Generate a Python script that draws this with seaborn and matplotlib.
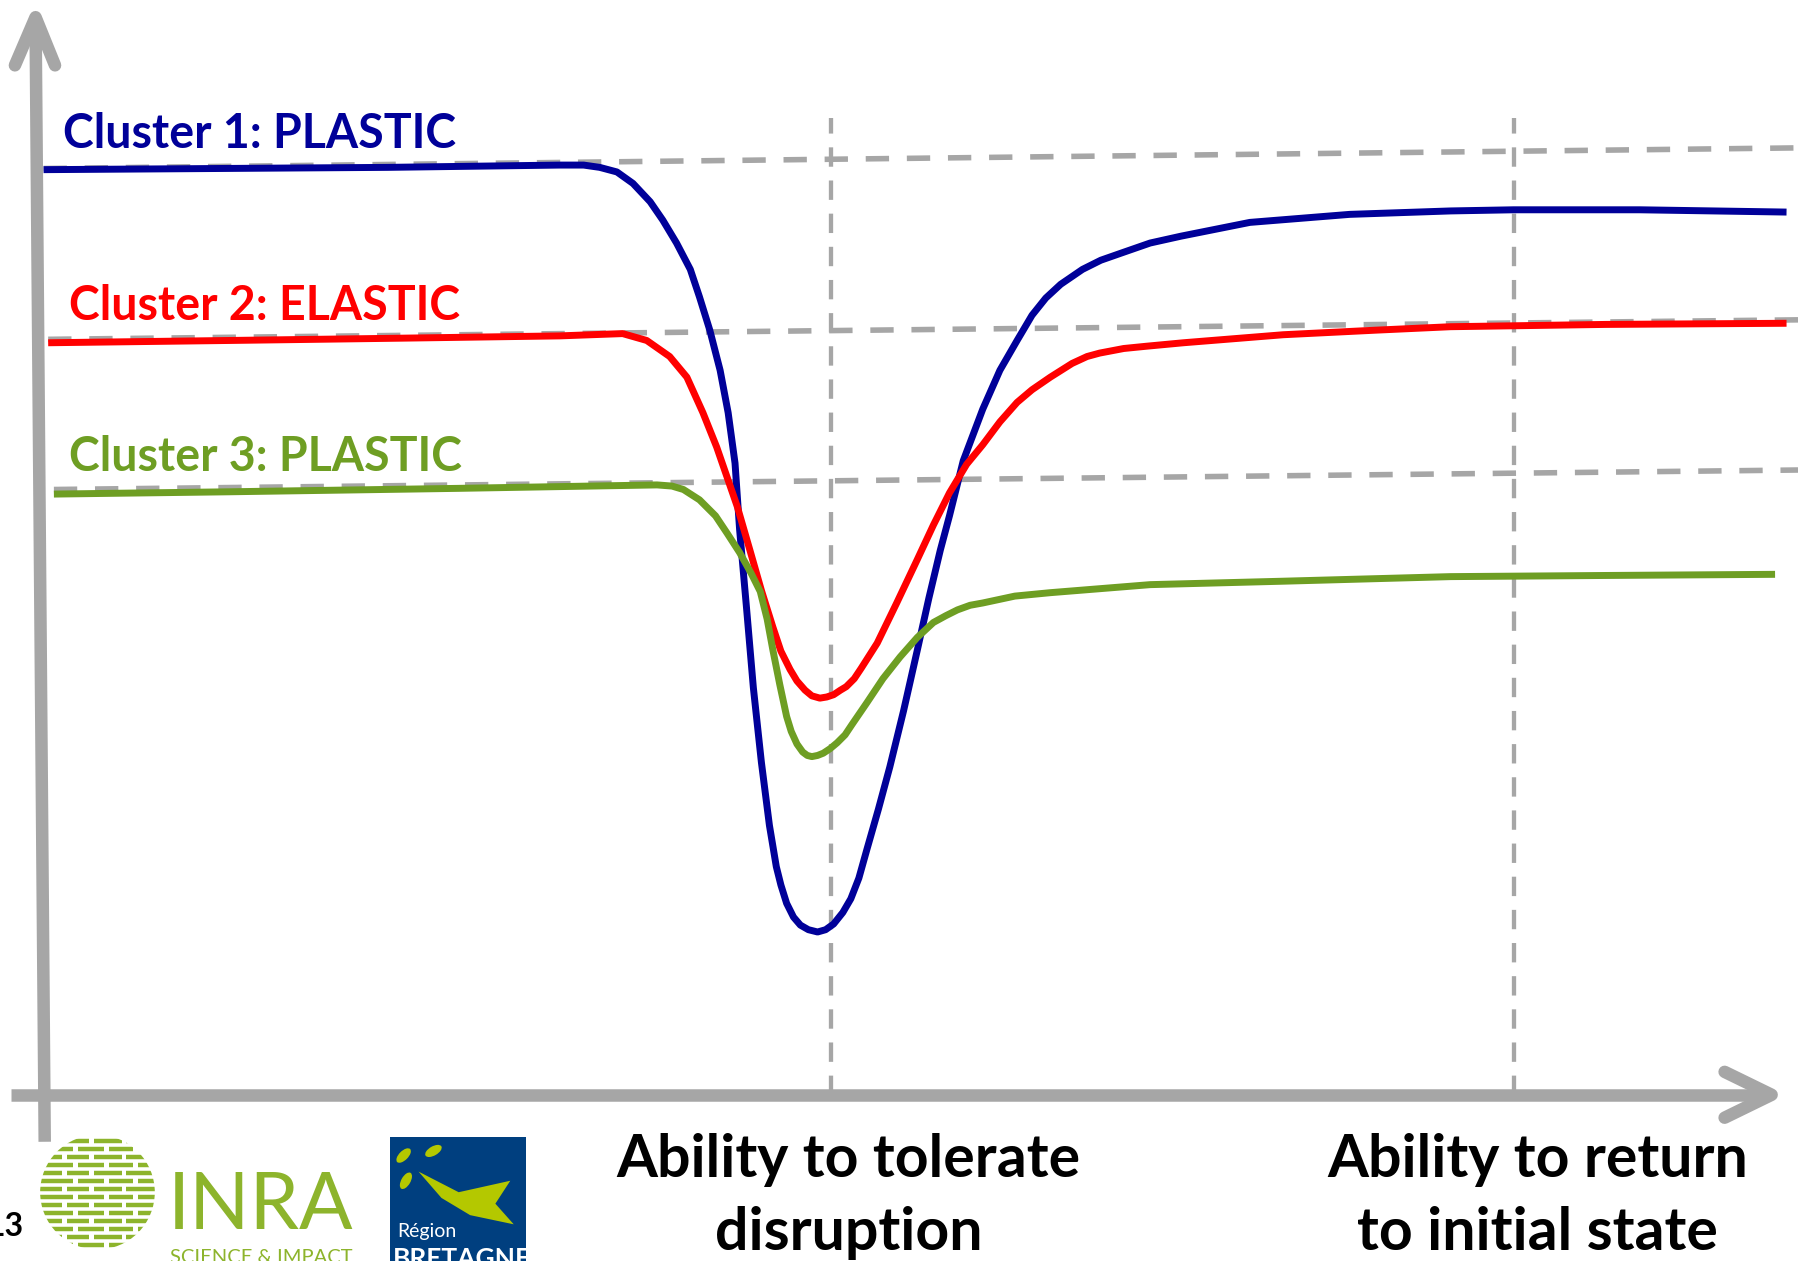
import numpy as np
import pandas as pd
import seaborn as sns
import matplotlib.pyplot as plt
from matplotlib.patches import Rectangle, Circle, Polygon, Ellipse

# ── Values (t: time, p: performance; origin = axes crossing) ──
c1_t = [0, 150, 300, 450, 471, 485, 500, 514, 529, 540, 552, 564, 572, 581, 590, 597,
        603, 607, 613, 619, 626, 633, 639, 643, 648, 654, 660, 667, 675, 682, 689, 697,
        704, 711, 718, 728, 738, 750, 762, 772, 782, 790, 802, 819, 834, 849, 862, 874,
        887, 906, 922, 942, 965, 992, 1012, 1052, 1139, 1227, 1282, 1392, 1520]
c1_p = [807, 808, 809, 811, 811, 809, 805, 795, 779, 763, 743, 720, 696, 667, 632, 595,
        551, 493, 425, 355, 290, 235, 199, 183, 167, 155, 148, 144, 142, 144, 149, 159,
        171, 189, 214, 249, 286, 335, 388, 433, 475, 505, 553, 598, 632, 658, 680, 695,
        707, 720, 728, 735, 743, 749, 753, 761, 768, 771, 772, 772, 770]

c2_t = [4, 162, 312, 450, 505, 526, 546, 561, 575, 587, 596, 605, 616, 626, 636, 643,
        651, 657, 664, 670, 677, 683, 689, 695, 700, 707, 713, 727, 744, 762, 776, 790,
        805, 819, 834, 849, 862, 878, 897, 910, 921, 942, 962, 994, 1081, 1162, 1227,
        1362, 1520]
c2_p = [656, 658, 660, 662, 664, 658, 644, 626, 595, 565, 539, 513, 475, 440, 408, 387,
        371, 361, 353, 348, 346, 347, 349, 353, 356, 363, 372, 394, 429, 467, 497, 525,
        550, 567, 587, 604, 615, 626, 638, 644, 647, 651, 653, 656, 663, 667, 670,
        672, 673]

c3_t = [9, 162, 362, 535, 548, 558, 572, 586, 596, 607, 617, 625, 631, 636, 642, 648,
        652, 657, 662, 666, 670, 675, 680, 686, 692, 699, 705, 718, 732, 747, 762, 776,
        787, 797, 808, 819, 847, 878, 965, 1081, 1227, 1362, 1510]
c3_p = [524, 526, 529, 532, 531, 528, 519, 505, 490, 473, 455, 439, 415, 388, 358, 330,
        317, 306, 299, 296, 295, 296, 298, 302, 307, 314, 323, 342, 363, 382, 399, 412,
        418, 423, 427, 429, 435, 438, 445, 448, 452, 453, 454]

labels = ["Cluster 1: PLASTIC", "Cluster 2: ELASTIC", "Cluster 3: PLASTIC"]
colors = ["#000099", "#FF0000", "#6E9E23"]

# initial levels (dashed references): start and end of each
ref_t = [[0, 1530], [4, 1530], [9, 1530]]
ref_p = [[808, 826], [659, 676], [528, 545]]

# the two vertical markers
mark_t = [687, 1282]
mark_top = 852

xlabels = ["Ability to tolerate\ndisruption", "Ability to return\nto initial state"]

GREY = "#A6A6A6"

df = pd.concat([
    pd.DataFrame({"t": t, "p": p, "cluster": lab})
    for t, p, lab in zip([c1_t, c2_t, c3_t], [c1_p, c2_p, c3_p], labels)
])

sns.set_theme(style="white")
plt.rcParams["font.family"] = ["Lato", "DejaVu Sans"]

fig = plt.figure(figsize=(17.98, 12.61), dpi=100)
ax = fig.add_axes([0, 0, 1, 1])

# ── reference grid ───────────────────────────────────────────────────────────
for t, p in zip(ref_t, ref_p):
    ax.plot(t, p, color=GREY, lw=4.0, ls=(0, (4.2, 3.2)), zorder=1)
for t in mark_t:
    ax.plot([t, t], [0, mark_top], color=GREY, lw=3.1, ls=(0, (4.5, 3.2)), zorder=1)

# ── axes arrows ──────────────────────────────────────────────────────────────
ax.plot([1, -7], [-41, 940], color=GREY, lw=9, solid_capstyle="butt", zorder=2)
ax.plot([-25, -7, 10], [898, 940, 898], color=GREY, lw=9,
        solid_capstyle="round", solid_joinstyle="round", zorder=2)
ax.plot([-28, 1505], [0, 0], color=GREY, lw=9, solid_capstyle="butt", zorder=2)
ax.plot([1466, 1507, 1466], [20, 0, -20], color=GREY, lw=9,
        solid_capstyle="round", solid_joinstyle="round", zorder=2)

# ── curves ───────────────────────────────────────────────────────────────────
sns.lineplot(data=df, x="t", y="p", hue="cluster", palette=dict(zip(labels, colors)),
             estimator=None, sort=False, lw=5.0, legend=False, ax=ax, zorder=3,
             solid_joinstyle="round", solid_capstyle="butt")
ax.set_xlim(-38, 1530)
ax.set_ylim(-145, 955)
ax.axis("off")

for lab, col, (tx, ty) in zip(labels, colors, [(17, 826), (22, 676), (22, 544)]):
    ax.text(tx, ty, lab, color=col, fontsize=33.5, fontweight="bold", va="baseline", ha="left")

for tx, lab in zip([702, 1303], xlabels):
    first, second = lab.split("\n")
    ax.text(tx, -72, first, color="black", fontsize=42.5, fontweight="bold",
            ha="center", va="baseline")
    ax.text(tx, -135, second, color="black", fontsize=42.5, fontweight="bold",
            ha="center", va="baseline")

# ── footer: slide number and logos ───────────────────────────────────────────
ax.text(-17, -123, "13", color="black", fontsize=23, fontweight="bold", ha="right", va="baseline")

LIME = "#8DB42C"
disc = Circle((47, -85), 50, transform=ax.transData, facecolor="none", edgecolor="none")
ax.add_patch(disc)
rows = np.arange(-131, -36, 7)
for i, yy in enumerate(rows):
    cuts = [-5, 18, 42, 70, 100] if i % 2 else [-5, 28, 55, 80, 100]
    for a, b in zip(cuts[:-1], cuts[1:]):
        ln, = ax.plot([a + 2, b - 2], [yy, yy], color=LIME, lw=3.2, solid_capstyle="butt")
        ln.set_clip_path(disc)
ax.text(108, -117, "INRA", color=LIME, fontsize=57, fontweight="normal",
        ha="left", va="baseline")
ax.text(110, -147, "SCIENCE & IMPACT", color=LIME, fontsize=14.5, fontweight="normal",
        ha="left", va="baseline")

ax.add_patch(Rectangle((302, -160), 119, 123, facecolor="#003F7F", edgecolor="none"))
for cx, cy, ang in [(314, -53, 45), (340, -49, 30), (316, -75, 60)]:
    ax.add_patch(Ellipse((cx, cy), 16, 8, angle=ang, facecolor="#B4C800", edgecolor="none"))
ax.add_patch(Polygon([(327, -67), (362, -85), (407, -75), (394, -95), (410, -113),
                      (372, -105), (347, -90)], facecolor="#B4C800", edgecolor="none"))
ax.text(308, -124, "Région", color="white", fontsize=14, ha="left", va="baseline")
ax.text(305, -150, "BRETAGNE", color="white", fontsize=19, fontweight="bold",
        ha="left", va="baseline")

fig.savefig("out.png", dpi=100)
